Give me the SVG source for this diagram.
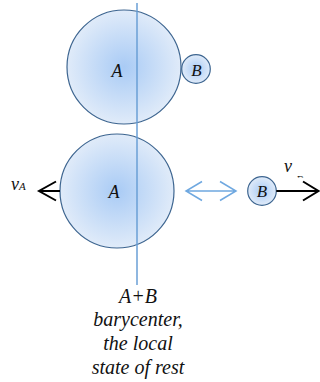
<svg xmlns="http://www.w3.org/2000/svg" width="320" height="382" viewBox="0 0 320 382">
<style>
.body{stroke:#3d6590;stroke-width:1.2}
.vel{stroke:#000;stroke-width:2;fill:none}
.lnk{stroke:#6fa8e0;stroke-width:1.5;fill:none}
text{font-family:"Liberation Serif","Times New Roman",serif;font-style:italic;fill:#111}
</style>
<defs>
<radialGradient id="g" cx="0.5" cy="0.5" r="0.5">
<stop offset="0" stop-color="#a9cbf5"/>
<stop offset="1" stop-color="#e0ebf9"/>
</radialGradient>
<clipPath id="clipvb"><rect x="280" y="150" width="40" height="27.5"/></clipPath>
</defs>
<rect width="320" height="382" fill="#fff"/>
<g id="A-top">
<circle class="body" cx="124" cy="67" r="57" fill="url(#g)"/>
<text x="117" y="77" font-size="18" text-anchor="middle">A</text>
</g>
<g id="B-top">
<circle class="body" cx="196" cy="69" r="14.3" fill="url(#g)"/>
<text x="196.5" y="76" font-size="17" text-anchor="middle">B</text>
</g>
<g id="A-bottom">
<circle class="body" cx="117" cy="191" r="57" fill="url(#g)"/>
<text x="114" y="198" font-size="18" text-anchor="middle">A</text>
</g>
<g id="B-bottom">
<circle class="body" cx="262" cy="191" r="14.3" fill="url(#g)"/>
<text x="262" y="197" font-size="17" text-anchor="middle">B</text>
</g>
<g id="connectors">
<line x1="137" y1="3" x2="137" y2="285" stroke="#6a9fd6" stroke-width="1.5"/>
<path class="vel" d="M60 191H39M56 181.5L39 191L56 200.5"/>
<path class="vel" d="M276.3 191H318M303 181.5L318.5 191L303 200.5"/>
<path class="lnk" d="M186 191H236M202 181.5L186 191L202 200.5M220 181.5L236 191L220 200.5"/>
</g>
<g id="labels">
<text x="11" y="190" font-size="18">v<tspan font-size="11">A</tspan></text>
<text x="284" y="171.5" font-size="18">v</text>
<text x="296" y="184" font-size="12" clip-path="url(#clipvb)">B</text>
<text x="138" y="303" font-size="20" text-anchor="middle">A+B</text>
<text x="138" y="326" font-size="20" text-anchor="middle">barycenter,</text>
<text x="138" y="350" font-size="20" text-anchor="middle">the local</text>
<text x="138" y="374" font-size="20" text-anchor="middle">state of rest</text>
</g>
</svg>
